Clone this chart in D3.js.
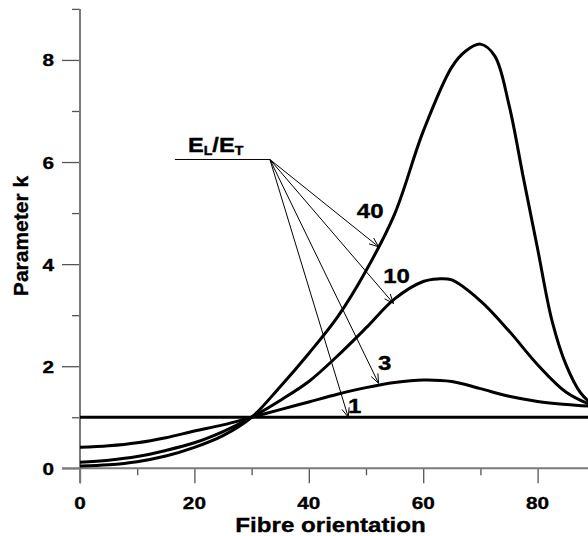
<!DOCTYPE html>
<html>
<head>
<meta charset="utf-8">
<script src="https://cdn.jsdelivr.net/npm/d3@7"></script>
<style>
  body { margin: 0; background: #fff; }
  svg { display: block; }
  text { font-family: "Liberation Sans", Arial, sans-serif; font-weight: bold; fill: #000; stroke: #000; stroke-width: 0.35px; }
</style>
</head>
<body>
<svg id="chart" width="588" height="536"></svg>
<script>
// Parameter k versus fibre orientation for several stiffness ratios E_L/E_T
const angles1 = [0, 90];
const k1 = [1, 1];

const angles3 = [0, 5, 10, 15, 20, 25, 30, 35, 40, 45, 50, 55, 60, 65, 70, 75, 80, 85, 90];
const k3 = [0.41, 0.44, 0.50, 0.60, 0.73, 0.85, 1.0, 1.15, 1.30, 1.45, 1.58, 1.68, 1.73, 1.70, 1.56, 1.41, 1.31, 1.25, 1.21];

const angles10 = [0, 5, 10, 15, 20, 25, 30, 35, 40, 45, 50, 55, 60, 62.5, 65, 70, 75, 80, 85, 90];
const k10 = [0.12, 0.16, 0.23, 0.35, 0.50, 0.72, 1.0, 1.33, 1.70, 2.20, 2.75, 3.32, 3.66, 3.71, 3.69, 3.28, 2.69, 2.03, 1.49, 1.21];

const angles40 = [0, 5, 10, 15, 20, 25, 30, 35, 40, 45, 50, 55, 60, 65, 67.5, 70, 72.5, 75, 77.5, 80, 82.5, 85, 87.5, 90];
const k40 = [0.045, 0.07, 0.13, 0.24, 0.41, 0.64, 1.0, 1.60, 2.25, 2.96, 3.87, 4.98, 6.6, 7.86, 8.18, 8.31, 8.08, 7.12, 5.7, 4.3, 2.9, 2.02, 1.48, 1.21];

const xMajorTicks = [0, 20, 40, 60, 80];
const xMinorTicks = [10, 30, 50, 70];
const yMajorTicks = [0, 2, 4, 6, 8];
const yMinorTicks = [1, 3, 5, 7, 9];

const xTitle = "Fibre orientation";
const yTitle = "Parameter k";

// Ratio labels with the point each arrow points to and the label anchor
const ratioNames = ["40", "10", "3", "1"];
const arrowTipAngle = [52.2, 54.8, 52.2, 46.9];
const arrowTipK = [4.34, 3.23, 1.665, 1.0];
const labelAngle = [48.4, 53.0, 52.1, 46.85];
const labelK = [4.91, 3.63, 1.93, 1.08];

// Leader line under the E_L/E_T heading: from angle, to angle, level
const leaderFrom = 16.6;
const leaderTo = 33.2;
const leaderK = 6.05;

const svg = d3.select("#chart");
const x = d3.scaleLinear().domain([0, 90]).range([80, 594.8]);
const y = d3.scaleLinear().domain([0, 9]).range([468.3, 8.9]);

const axisColor = "#7a7a7a";
const tickColor = "#555";

// horizontally widened bold text
function wideText(parent, px, py, str, size, sx, anchor) {
  return parent.append("text")
    .attr("transform", `translate(${px},${py}) scale(${sx},1)`)
    .attr("text-anchor", anchor)
    .attr("font-size", size)
    .text(str);
}

// ----- axes -----
const gy = svg.append("g").attr("transform", `translate(${x(0)},0)`);
gy.call(d3.axisLeft(y).tickValues(yMajorTicks).tickSize(18).tickFormat(""));
gy.select(".domain").remove();
gy.selectAll(".tick line").attr("stroke", tickColor).attr("stroke-width", 1.3);
const gyMinor = svg.append("g").attr("transform", `translate(${x(0)},0)`);
gyMinor.call(d3.axisLeft(y).tickValues(yMinorTicks).tickSize(8).tickFormat(""));
gyMinor.select(".domain").remove();
gyMinor.selectAll(".tick line").attr("stroke", tickColor).attr("stroke-width", 1.3);

const gx = svg.append("g").attr("transform", `translate(0,${y(0)})`);
gx.call(d3.axisBottom(x).tickValues(xMajorTicks).tickSize(15).tickFormat(""));
gx.select(".domain").remove();
gx.selectAll(".tick line").attr("stroke", tickColor).attr("stroke-width", 1.3);
const gxMinor = svg.append("g").attr("transform", `translate(0,${y(0)})`);
gxMinor.call(d3.axisBottom(x).tickValues(xMinorTicks).tickSize(7).tickFormat(""));
gxMinor.select(".domain").remove();
gxMinor.selectAll(".tick line").attr("stroke", tickColor).attr("stroke-width", 1.3);

// axis lines, running a little past the origin
svg.append("line")
  .attr("x1", x(0)).attr("x2", x(0))
  .attr("y1", y(9)).attr("y2", y(0) + 15)
  .attr("stroke", axisColor).attr("stroke-width", 2);
svg.append("line")
  .attr("x1", x(0) - 18).attr("x2", 588)
  .attr("y1", y(0)).attr("y2", y(0))
  .attr("stroke", axisColor).attr("stroke-width", 2);

// tick labels
yMajorTicks.forEach(v => wideText(svg, 54, y(v) + 6.5, String(v), 17, 1.22, "end"));
xMajorTicks.forEach(v => wideText(svg, x(v), 508.5, String(v), 17, 1.22, "middle"));

// axis titles
wideText(svg, 330.5, 531.5, xTitle, 21, 1.15, "middle");
svg.append("text")
  .attr("transform", "translate(28,236) rotate(-90)")
  .attr("text-anchor", "middle")
  .attr("font-size", 21)
  .text(yTitle);

// ----- curves -----
const line = d3.line()
  .x(d => x(d[0]))
  .y(d => y(d[1]))
  .curve(d3.curveCatmullRom.alpha(0.5));

const series = [
  [angles1, k1],
  [angles3, k3],
  [angles10, k10],
  [angles40, k40]
];
series.forEach(([a, k]) => {
  svg.append("path")
    .datum(a.map((v, i) => [v, k[i]]))
    .attr("d", line)
    .attr("fill", "none")
    .attr("stroke", "#000")
    .attr("stroke-width", 3)
    .attr("stroke-linejoin", "round");
});

// ----- E_L/E_T annotation -----
const ox = x(leaderTo), oy = y(leaderK);
svg.append("line")
  .attr("x1", x(leaderFrom)).attr("x2", ox)
  .attr("y1", oy).attr("y2", oy)
  .attr("stroke", "#000").attr("stroke-width", 1);

const head = svg.append("text")
  .attr("transform", `translate(${x(leaderFrom) + 13},${oy - 7.5}) scale(1.18,1)`)
  .attr("font-size", 20);
head.append("tspan").text("E");
head.append("tspan").attr("font-size", 12).attr("dy", 3).text("L");
head.append("tspan").attr("dy", -3).text("/E");
head.append("tspan").attr("font-size", 12).attr("dy", 3).text("T");

ratioNames.forEach((name, i) => {
  const tx = x(arrowTipAngle[i]), ty = y(arrowTipK[i]);
  svg.append("line")
    .attr("x1", ox).attr("y1", oy).attr("x2", tx).attr("y2", ty)
    .attr("stroke", "#000").attr("stroke-width", 1);
  const ang = Math.atan2(ty - oy, tx - ox);
  [0.38, -0.38].forEach(da => {
    svg.append("line")
      .attr("x1", tx).attr("y1", ty)
      .attr("x2", tx - 10 * Math.cos(ang + da))
      .attr("y2", ty - 10 * Math.sin(ang + da))
      .attr("stroke", "#000").attr("stroke-width", 1);
  });
  wideText(svg, x(labelAngle[i]), y(labelK[i]), name, 20, 1.2, "start");
});
</script>
</body>
</html>
